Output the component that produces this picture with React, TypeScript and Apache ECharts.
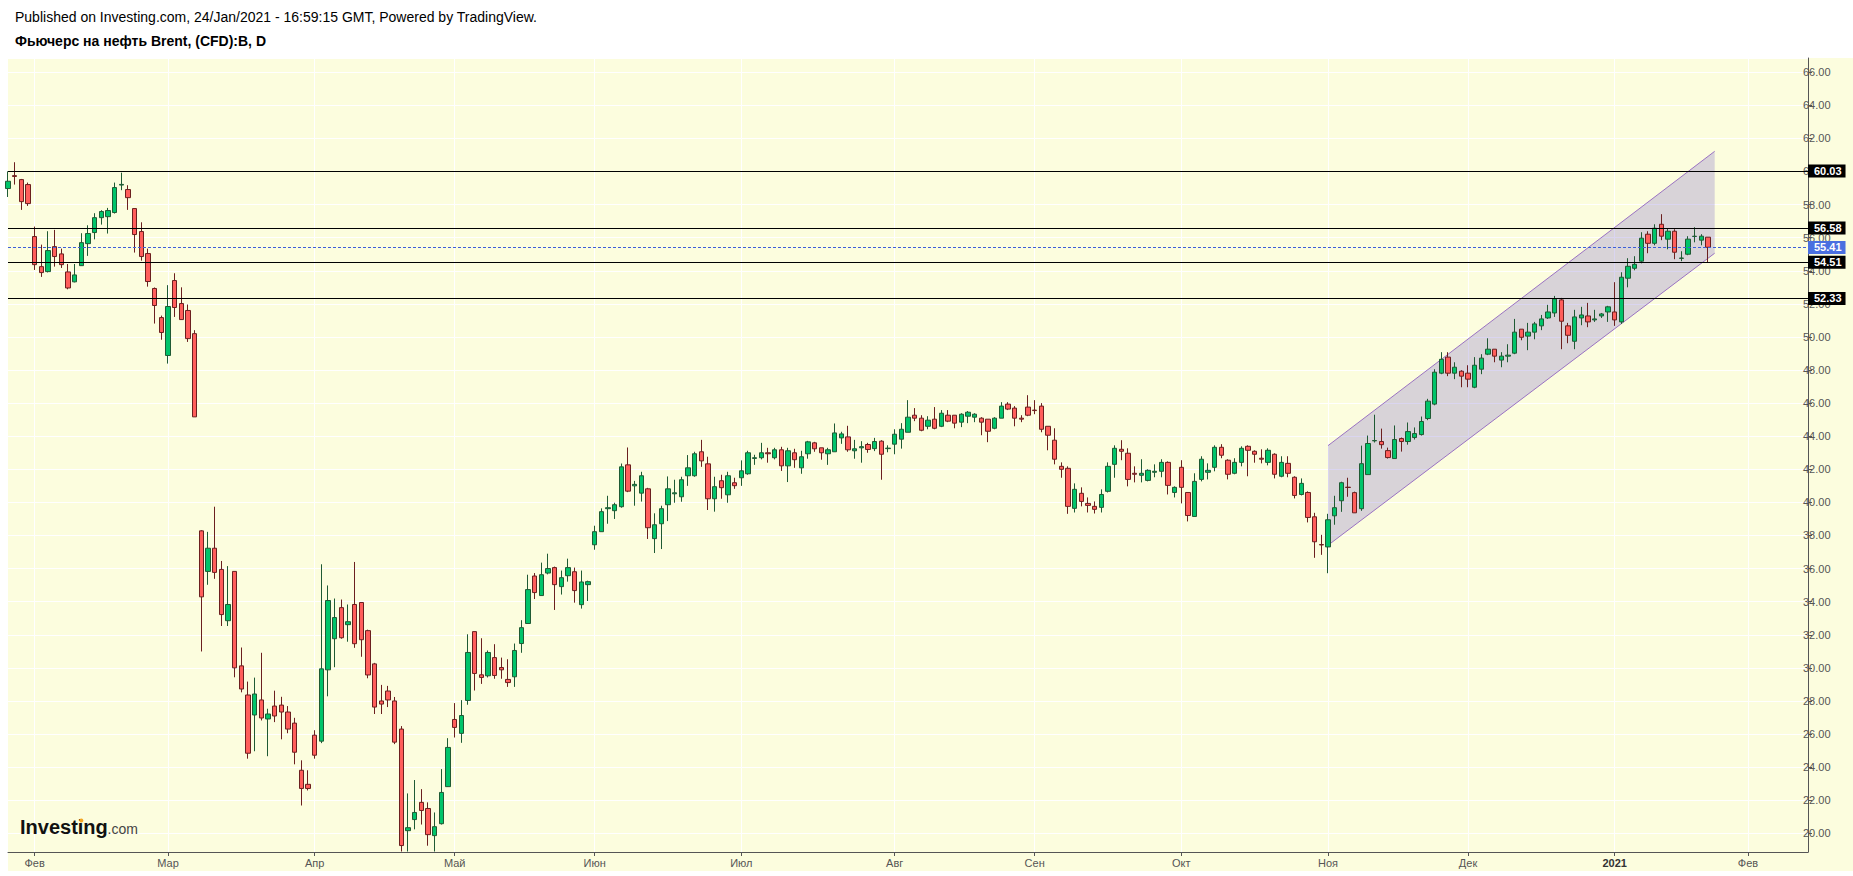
import React, { useEffect, useRef } from 'react';
import * as echarts from 'echarts';

// ---------- data ----------
const startDate = '2020-01-28';
const holidays = ['2020-04-10', '2020-12-25', '2021-01-01'];
const categoryCount = 271;
const monthNames = ['Янв', 'Фев', 'Мар', 'Апр', 'Май', 'Июн', 'Июл', 'Авг', 'Сен', 'Окт', 'Ноя', 'Дек'];

const titleLine1 = 'Published on Investing.com, 24/Jan/2021 - 16:59:15 GMT, Powered by TradingView.';
const titleLine2 = 'Фьючерс на нефть Brent, (CFD):B, D';

// [open, close, low, high], one per trading day from 2020-01-28
const candles: number[][] = [
  [58.97, 59.41, 58.46, 60.01], [59.75, 59.70, 59.21, 60.56], [59.51, 58.18, 57.68, 59.55], [59.21, 58.06, 57.92, 59.33],
  [56.07, 54.37, 54.05, 56.67], [54.25, 53.89, 53.63, 55.58], [53.95, 55.22, 53.9, 56.39], [55.46, 54.86, 54.25, 56.47],
  [55.02, 54.37, 54.17, 55.34], [53.93, 52.96, 52.88, 54.41], [53.33, 53.75, 53.3, 54.41], [54.31, 55.70, 54.3, 56.27],
  [55.64, 56.25, 54.9, 56.75], [56.31, 57.21, 55.9, 57.48], [57.21, 57.58, 56.79, 57.66], [57.27, 57.64, 56.25, 57.8],
  [57.52, 59.03, 57.46, 59.33], [59.18, 59.22, 58.87, 59.93], [58.91, 58.42, 57.68, 59.17], [57.76, 56.19, 55.1, 57.76],
  [56.37, 54.86, 54.61, 56.93], [55.04, 53.35, 53.04, 55.34], [52.93, 51.9, 50.81, 52.99], [51.17, 50.27, 49.83, 51.29],
  [48.88, 51.84, 48.39, 53.13], [53.41, 51.78, 51.21, 53.85], [52.02, 51.05, 51.05, 53.0], [51.6, 49.9, 49.7, 51.96],
  [50.2, 45.17, 45.17, 50.41], [38.28, 34.29, 30.99, 38.32], [35.83, 37.23, 35.02, 38.22], [37.23, 35.77, 35.38, 39.74],
  [35.95, 33.22, 32.53, 36.46], [32.85, 33.83, 32.53, 36.15], [35.83, 30.0, 29.43, 35.83], [30.12, 28.72, 28.52, 31.23],
  [28.36, 24.84, 24.51, 29.17], [27.15, 28.42, 24.96, 29.41], [28.06, 26.97, 26.82, 30.91], [26.91, 27.21, 24.66, 27.53],
  [27.69, 27.09, 26.72, 28.62], [27.75, 27.33, 25.68, 28.25], [27.33, 26.3, 26.05, 27.69], [26.66, 24.9, 24.17, 26.98],
  [23.81, 22.71, 21.68, 24.41], [22.96, 22.71, 22.59, 23.81], [25.93, 24.72, 24.51, 26.23], [25.57, 29.94, 25.45, 36.26],
  [29.88, 34.07, 28.28, 34.98], [31.76, 33.04, 30.04, 34.19], [33.64, 31.82, 31.76, 34.13], [32.61, 32.79, 31.58, 33.83],
  [33.83, 31.46, 31.21, 36.4], [33.95, 31.7, 30.67, 33.95], [32.25, 29.57, 29.37, 32.31], [30.24, 27.63, 27.21, 30.3],
  [28.0, 27.81, 27.21, 28.97], [28.6, 28.06, 27.63, 28.91], [28.0, 25.51, 25.39, 28.24], [26.3, 19.26, 18.9, 26.48],
  [20.16, 20.34, 18.9, 22.41], [20.83, 21.26, 20.24, 23.22], [21.87, 21.38, 20.53, 22.67], [21.5, 19.92, 19.25, 21.87],
  [19.86, 20.4, 18.9, 21.26], [20.58, 22.47, 20.53, 23.88], [22.82, 25.19, 22.8, 25.75], [26.88, 26.4, 25.79, 27.87],
  [26.04, 27.12, 25.47, 28.05], [28.03, 30.93, 27.77, 32.03], [32.19, 29.66, 28.63, 32.19], [29.58, 29.42, 29.03, 31.79],
  [29.52, 30.93, 29.42, 31.05], [30.62, 29.54, 29.34, 31.43], [30.02, 29.88, 29.34, 30.62], [29.3, 29.11, 28.85, 30.52],
  [29.46, 31.05, 28.85, 31.47], [31.47, 32.43, 30.91, 32.88], [32.68, 34.73, 32.68, 35.63], [35.55, 34.55, 34.16, 35.73],
  [34.37, 35.63, 34.37, 36.36], [35.73, 36.0, 35.65, 36.9], [36.06, 35.03, 33.5, 36.12], [34.91, 35.45, 34.43, 35.88],
  [35.57, 36.06, 35.21, 36.6], [35.81, 34.67, 33.94, 36.06], [33.82, 35.19, 33.58, 35.88], [35.03, 35.21, 34.04, 35.27],
  [37.44, 38.23, 37.14, 38.59], [38.23, 39.44, 38.23, 39.64], [39.62, 39.68, 38.71, 40.4], [39.5, 39.86, 39.0, 39.98],
  [39.74, 42.15, 39.68, 42.35], [42.27, 40.68, 40.62, 43.32], [41.0, 41.09, 39.8, 41.3], [40.56, 41.61, 40.05, 41.85],
  [40.82, 38.47, 37.79, 40.88], [37.81, 38.65, 36.94, 39.34], [38.71, 39.62, 37.18, 39.8], [39.86, 40.82, 38.87, 41.57],
  [40.52, 40.58, 39.98, 41.37], [40.34, 41.37, 40.04, 41.55], [41.61, 42.09, 41.0, 42.86], [41.61, 42.94, 41.55, 43.06],
  [43.06, 42.51, 42.15, 43.78], [42.33, 40.22, 39.54, 42.76], [40.22, 40.95, 39.44, 41.55], [41.31, 40.89, 40.22, 41.67],
  [40.46, 41.61, 39.98, 41.85], [41.19, 41.01, 40.82, 41.49], [41.49, 41.91, 41.0, 42.54], [41.73, 43.0, 41.67, 43.12],
  [42.66, 42.7, 42.27, 42.88], [42.7, 43.0, 42.6, 43.6], [43.0, 42.94, 42.4, 43.3], [42.7, 43.18, 42.6, 43.3],
  [43.18, 42.21, 41.9, 43.36], [42.21, 43.12, 41.23, 43.3], [43.0, 42.58, 42.09, 43.24], [42.09, 42.76, 41.73, 43.12],
  [42.94, 43.66, 42.64, 43.72], [43.6, 43.24, 43.06, 43.66], [43.3, 43.0, 42.58, 43.3], [42.94, 43.18, 42.27, 43.3],
  [43.06, 44.2, 43.06, 44.77], [43.9, 44.14, 43.54, 44.27], [43.96, 43.18, 43.06, 44.63], [43.12, 43.24, 42.64, 43.78],
  [43.3, 43.37, 42.4, 43.7], [43.5, 43.2, 43.0, 43.6], [43.25, 43.68, 43.1, 43.9], [43.7, 42.91, 41.37, 43.76],
  [43.25, 43.28, 43.03, 43.45], [43.52, 44.12, 42.91, 44.42], [43.82, 44.42, 43.25, 44.79], [44.24, 45.15, 44.24, 46.18],
  [45.27, 45.09, 44.91, 45.7], [45.09, 44.36, 44.3, 45.27], [44.6, 44.97, 44.42, 45.21], [45.03, 44.48, 44.42, 45.76],
  [44.6, 45.39, 44.55, 45.58], [45.27, 44.91, 44.85, 45.58], [45.27, 44.79, 44.48, 45.27], [44.85, 45.33, 44.55, 45.39],
  [45.21, 45.45, 44.79, 45.52], [45.15, 45.33, 44.85, 45.39], [45.09, 44.85, 44.06, 45.15], [45.03, 44.3, 43.64, 45.03],
  [44.48, 45.09, 44.42, 45.15], [45.09, 45.82, 45.09, 46.06], [45.94, 45.64, 45.58, 46.06], [45.7, 45.09, 44.6, 45.82],
  [45.09, 45.03, 44.85, 45.27], [45.76, 45.27, 45.21, 46.48], [45.58, 45.55, 45.33, 46.18], [45.82, 44.42, 44.24, 46.0],
  [44.6, 44.06, 43.15, 44.6], [43.76, 42.61, 42.3, 44.48], [42.18, 42.0, 41.49, 42.42], [42.06, 39.76, 39.31, 42.18],
  [39.64, 40.79, 39.39, 41.15], [40.55, 40.06, 39.76, 40.91], [39.94, 39.82, 39.39, 40.3], [39.76, 39.58, 39.33, 40.06],
  [39.7, 40.48, 39.39, 40.79], [40.67, 42.18, 40.6, 42.42], [42.3, 43.27, 41.49, 43.45], [43.21, 43.09, 42.55, 43.76],
  [42.97, 41.39, 40.97, 43.27], [41.76, 41.7, 41.21, 42.18], [41.64, 41.76, 41.21, 42.61], [41.33, 41.94, 41.27, 42.0],
  [41.82, 41.88, 41.52, 42.3], [41.88, 42.42, 41.52, 42.61], [42.42, 41.03, 40.48, 42.48], [40.6, 40.91, 40.3, 40.97],
  [42.12, 40.91, 39.94, 42.55], [40.6, 39.21, 38.85, 40.6], [39.15, 41.27, 39.15, 41.76], [41.39, 42.61, 41.27, 42.79],
  [41.82, 41.94, 41.39, 42.36], [42.12, 43.33, 41.88, 43.45], [43.33, 42.85, 42.67, 43.52], [42.55, 41.7, 41.39, 42.61],
  [41.76, 42.42, 41.7, 42.67], [42.42, 43.27, 42.18, 43.39], [43.39, 43.15, 41.58, 43.45], [43.09, 42.91, 42.4, 43.15],
  [42.67, 42.61, 42.36, 43.21], [42.42, 43.15, 42.24, 43.27], [42.91, 41.7, 41.45, 42.97], [41.58, 42.42, 41.52, 42.79],
  [42.36, 41.76, 41.52, 42.79], [41.52, 40.42, 40.24, 41.58], [40.48, 41.15, 40.42, 41.45], [40.6, 39.09, 38.79, 40.67],
  [39.13, 37.62, 36.65, 39.37], [37.45, 37.43, 36.83, 38.04], [37.31, 38.95, 35.72, 39.31], [39.19, 39.68, 38.65, 40.4],
  [40.1, 41.19, 39.43, 41.25], [40.92, 40.9, 40.34, 41.49], [40.59, 39.37, 39.37, 40.65], [39.62, 42.34, 39.49, 43.43],
  [41.68, 43.56, 41.68, 44.04], [43.72, 43.74, 43.62, 45.3], [43.68, 43.49, 43.25, 44.46], [43.13, 42.71, 42.65, 43.31],
  [42.65, 43.8, 42.65, 44.65], [43.86, 43.68, 43.07, 43.92], [43.68, 44.28, 43.49, 44.83], [43.92, 44.16, 43.8, 44.53],
  [44.1, 44.89, 44.04, 45.19], [45.07, 46.12, 44.97, 46.26], [45.94, 47.87, 45.87, 48.05], [47.81, 48.65, 47.75, 49.08],
  [48.78, 47.81, 47.63, 49.08], [47.81, 48.17, 47.45, 48.47], [47.93, 47.63, 46.96, 47.99], [47.81, 47.45, 46.96, 48.29],
  [46.96, 48.29, 46.9, 48.78], [48.05, 48.72, 47.75, 48.96], [48.96, 49.26, 48.9, 49.92], [49.26, 48.84, 48.47, 49.26],
  [48.6, 48.84, 48.17, 49.08], [48.84, 48.9, 48.47, 49.56], [49.02, 50.29, 48.96, 51.09], [50.47, 49.98, 49.8, 50.47],
  [50.05, 50.29, 49.2, 50.85], [50.29, 50.79, 49.86, 50.91], [50.67, 51.09, 50.41, 51.33], [51.15, 51.51, 51.09, 51.94],
  [51.45, 52.3, 51.21, 52.48], [52.24, 50.95, 49.26, 52.36], [50.67, 50.1, 49.62, 50.85], [49.74, 51.21, 49.26, 51.64],
  [51.15, 51.33, 50.71, 51.82], [51.27, 50.91, 50.59, 52.06], [51.03, 51.09, 50.91, 51.64], [51.27, 51.39, 51.15, 51.45],
  [51.51, 51.82, 50.91, 51.88], [51.51, 51.03, 50.67, 53.31], [50.91, 53.61, 50.79, 53.91], [53.55, 54.27, 53.0, 54.76],
  [54.15, 54.39, 54.03, 54.88], [54.58, 55.97, 54.45, 56.33], [56.21, 55.66, 55.06, 56.39], [55.66, 56.57, 55.54, 56.81],
  [56.81, 56.09, 55.85, 57.42], [55.91, 56.39, 55.3, 56.57], [56.39, 55.12, 54.7, 56.51], [54.75, 54.77, 54.58, 55.18],
  [55.0, 55.91, 54.94, 56.09], [56.07, 56.09, 55.72, 56.63], [55.85, 56.09, 55.54, 56.21], [56.03, 55.42, 54.52, 56.03],
];

const levels = [60.03, 56.58, 54.51, 52.33];
const lastPrice = 55.41;
const channelStart = { date: '2020-11-02', low: 37.41, high: 43.43 };
const channelEnd = { date: '2021-01-25', low: 55.06, high: 61.22 };

const yMin = 18.87;
const yMax = 66.86;

// ---------- helpers ----------
function buildDates(): string[] {
  const out: string[] = [];
  const d = new Date(startDate + 'T00:00:00Z');
  while (out.length < categoryCount) {
    const day = d.getUTCDay();
    const iso = d.toISOString().slice(0, 10);
    if (day !== 0 && day !== 6 && holidays.indexOf(iso) < 0) out.push(iso);
    d.setUTCDate(d.getUTCDate() + 1);
  }
  return out;
}

const FONT = '"Liberation Sans", Arial, Helvetica, sans-serif';

export default function App() {
  const ref = useRef<HTMLDivElement>(null);

  useEffect(() => {
    document.body.style.margin = '0';
    if (!ref.current) return;
    const chart = echarts.init(ref.current, undefined, { renderer: 'svg' });

    const dates = buildDates();
    const monthStart = new Set<number>();
    for (let i = 1; i < dates.length; i++) {
      if (dates[i].slice(5, 7) !== dates[i - 1].slice(5, 7)) monthStart.add(i);
    }
    const isTick = (idx: number) => monthStart.has(idx);
    const labelFor = (val: string) => {
      const m = parseInt(val.slice(5, 7), 10);
      if (m === 1) return '{y|' + val.slice(0, 4) + '}';
      return monthNames[m - 1];
    };

    const i0 = dates.indexOf(channelStart.date);
    const i1 = dates.indexOf(channelEnd.date);

    const blackLabel = {
      show: true,
      position: 'end',
      distance: 0,
      formatter: (p: any) => Number(p.value).toFixed(2),
      color: '#fff',
      fontWeight: 'bold',
      fontSize: 11,
      fontFamily: FONT,
      backgroundColor: '#000',
      padding: [1, 4, 1, 6],
      lineHeight: 11,
    };

    const option: any = {
      animation: false,
      backgroundColor: 'transparent',
      grid: { left: 8, right: 45, top: 58, bottom: 24, containLabel: false },
      xAxis: {
        type: 'category',
        data: dates,
        boundaryGap: false,
        axisLine: { show: true, lineStyle: { color: '#555', width: 1 } },
        axisTick: { show: true, interval: isTick, length: 4, lineStyle: { color: '#555' } },
        axisLabel: {
          interval: isTick,
          formatter: labelFor,
          color: '#555',
          fontSize: 11,
          fontFamily: FONT,
          margin: 5,
          rich: { y: { fontWeight: 'bold', color: '#333', fontSize: 11, fontFamily: FONT } },
        },
        splitLine: { show: true, interval: isTick, lineStyle: { color: '#ffffff', width: 1 } },
      },
      yAxis: {
        type: 'value',
        position: 'right',
        min: yMin,
        max: yMax,
        splitNumber: 24,
        minInterval: 2,
        maxInterval: 2,
        axisLine: { show: true, lineStyle: { color: '#555', width: 1 } },
        axisTick: { show: true, length: 4, lineStyle: { color: '#555' } },
        axisLabel: {
          formatter: (v: number) => v.toFixed(2),
          color: '#555',
          fontSize: 11,
          fontFamily: FONT,
          margin: -5,
          showMinLabel: false,
          showMaxLabel: false,
        },
        splitLine: { show: true, lineStyle: { color: '#ffffff', width: 1 } },
      },
      graphic: [
        {
          type: 'rect', z: -10, silent: true,
          shape: { x: 8, y: 58, width: 1845, height: 813 },
          style: { fill: '#fcfdde' },
        },
        {
          type: 'text', z: 100, x: 15, y: 17,
          style: { text: titleLine1, font: '14px ' + FONT, fill: '#000', textVerticalAlign: 'middle', verticalAlign: 'middle' },
        },
        {
          type: 'text', z: 100, x: 15, y: 40.5,
          style: { text: titleLine2, font: 'bold 14px ' + FONT, fill: '#000', textVerticalAlign: 'middle', verticalAlign: 'middle' },
        },
        {
          type: 'text', z: 100, x: 20, y: 827,
          style: { text: 'Investing', font: 'bold 20px ' + FONT, fill: '#111', textVerticalAlign: 'middle', verticalAlign: 'middle' },
        },
        {
          type: 'circle', z: 101, shape: { cx: 81.3, cy: 820.5, r: 2 },
          style: { fill: '#f5a623' },
        },
        {
          type: 'text', z: 100, x: 107.5, y: 829,
          style: { text: '.com', font: '14px ' + FONT, fill: '#444', textVerticalAlign: 'middle', verticalAlign: 'middle' },
        },
      ],
      series: [
        {
          type: 'custom',
          silent: true,
          z: 1,
          data: [0],
          renderItem: (params: any, api: any) => {
            const a = api.coord([i0, channelStart.low]);
            const b = api.coord([i1, channelEnd.low]);
            const c = api.coord([i1, channelEnd.high]);
            const d = api.coord([i0, channelStart.high]);
            return {
              type: 'group',
              children: [
                { type: 'polygon', shape: { points: [a, b, c, d] }, style: { fill: 'rgba(120,100,200,0.27)' } },
                { type: 'line', shape: { x1: a[0], y1: a[1], x2: b[0], y2: b[1] }, style: { stroke: '#9a72c2', lineWidth: 1 } },
                { type: 'line', shape: { x1: d[0], y1: d[1], x2: c[0], y2: c[1] }, style: { stroke: '#9a72c2', lineWidth: 1 } },
              ],
            };
          },
        },
        {
          type: 'candlestick',
          z: 3,
          clip: true,
          data: candles,
          barWidth: 5,
          itemStyle: {
            color: '#00c46a',
            color0: '#ff5e5b',
            borderColor: '#1f5a34',
            borderColor0: '#6b1f1f',
            borderWidth: 1,
          },
          markLine: {
            symbol: ['none', 'none'],
            silent: true,
            animation: false,
            data: [
              ...levels.map((v) => ({
                yAxis: v,
                lineStyle: { color: '#000', width: 1, type: 'solid' },
                label: blackLabel,
              })),
              {
                yAxis: lastPrice,
                lineStyle: { color: '#3d5fd8', width: 1, type: [3, 2] },
                label: { ...blackLabel, backgroundColor: '#4a6fe0' },
              },
            ],
          },
        },
      ],
    };

    chart.setOption(option);
    return () => chart.dispose();
  }, []);

  return <div ref={ref} style={{ width: 1853, height: 876 }} />;
}
